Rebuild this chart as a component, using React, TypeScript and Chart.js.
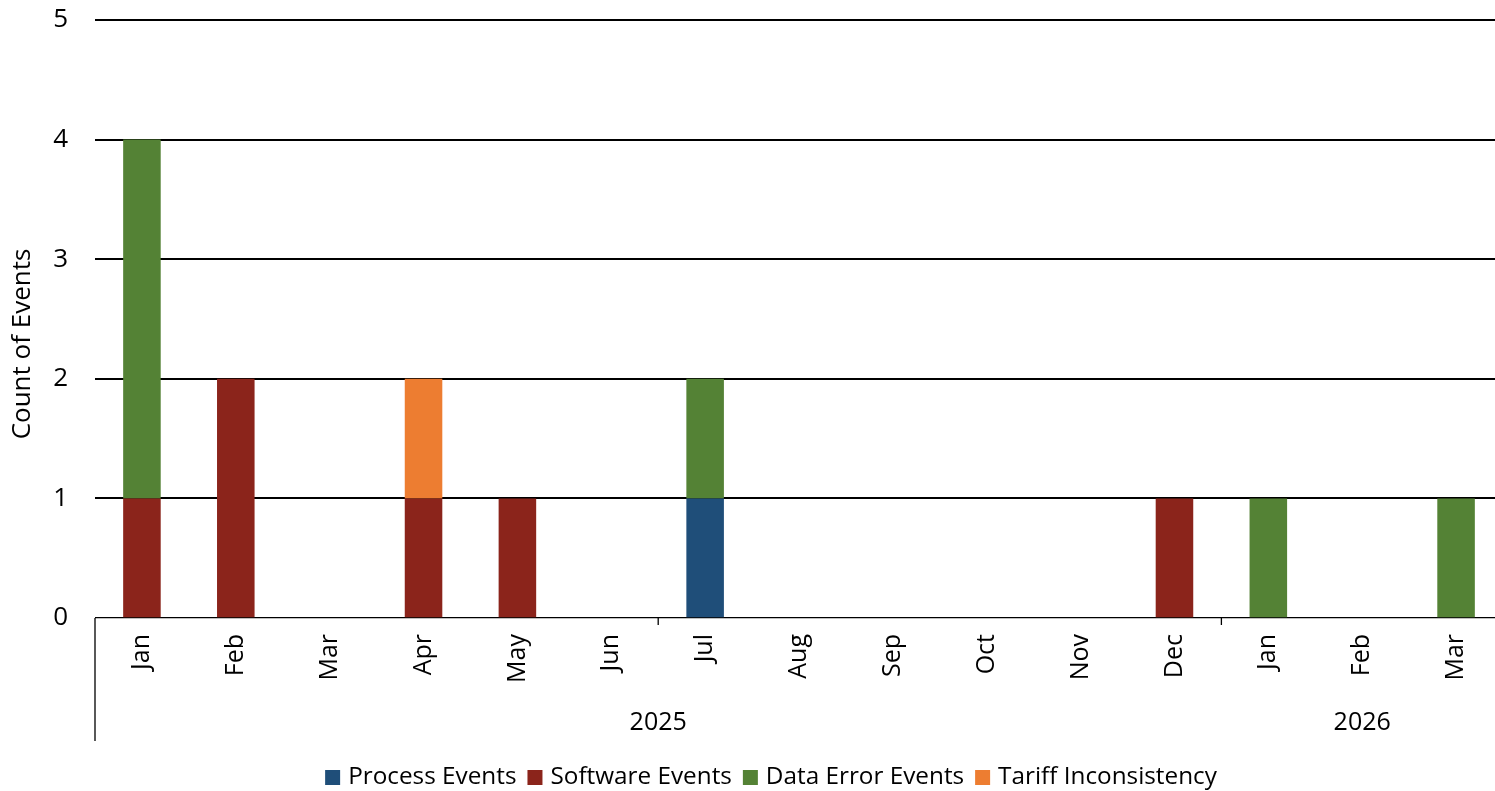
import React, { useEffect, useRef } from "react";
import { Chart, registerables } from "chart.js";

Chart.register(...registerables);

const months = ["Jan", "Feb", "Mar", "Apr", "May", "Jun", "Jul", "Aug", "Sep", "Oct", "Nov", "Dec", "Jan", "Feb", "Mar"];
const years = [
  { label: "2025", start: 0, end: 11 },
  { label: "2026", start: 12, end: 14 },
];
const processEvents = [0, 0, 0, 0, 0, 0, 1, 0, 0, 0, 0, 0, 0, 0, 0];
const softwareEvents = [1, 2, 0, 1, 1, 0, 0, 0, 0, 0, 0, 1, 0, 0, 0];
const dataErrorEvents = [3, 0, 0, 0, 0, 0, 1, 0, 0, 0, 0, 0, 1, 0, 1];
const tariffInconsistency = [0, 0, 0, 1, 0, 0, 0, 0, 0, 0, 0, 0, 0, 0, 0];
const yTicks = [0, 1, 2, 3, 4, 5];

const seriesNames = ["Process Events", "Software Events", "Data Error Events", "Tariff Inconsistency"];
const seriesColors = ["#1F4E79", "#8B241B", "#548235", "#ED7D31"];

const FONT = "'Open Sans', 'Noto Sans', sans-serif";

const customAxes = {
  id: "customAxes",
  afterDraw(chart: any) {
    const ctx = chart.ctx;
    const x = chart.scales.x;
    const y = chart.scales.y;
    const area = chart.chartArea;
    ctx.save();
    ctx.fillStyle = "#000";
    // y tick labels
    ctx.font = `26px ${FONT}`;
    ctx.textAlign = "right";
    ctx.textBaseline = "middle";
    yTicks.forEach((v) => {
      ctx.fillText(String(v), 68, y.getPixelForValue(v));
    });
    // y title
    ctx.save();
    ctx.translate(23, 344);
    ctx.rotate(-Math.PI / 2);
    ctx.textAlign = "center";
    ctx.textBaseline = "middle";
    ctx.font = `26px ${FONT}`;
    ctx.fillText("Count of Events", 0, 0);
    ctx.restore();
    // month labels
    ctx.font = `25px ${FONT}`;
    months.forEach((m, i) => {
      const px = x.getPixelForValue(i);
      ctx.save();
      ctx.translate(px, 634);
      ctx.rotate(-Math.PI / 2);
      ctx.textAlign = "right";
      ctx.textBaseline = "middle";
      ctx.fillText(m, 0, 0);
      ctx.restore();
    });
    // year labels and separators
    const step = x.getPixelForValue(1) - x.getPixelForValue(0);
    ctx.font = `25px ${FONT}`;
    ctx.textAlign = "center";
    ctx.textBaseline = "middle";
    years.forEach((yr) => {
      const l = x.getPixelForValue(yr.start) - step / 2;
      const r = x.getPixelForValue(yr.end) + step / 2;
      ctx.fillText(yr.label, (l + r) / 2, 723);
    });
    ctx.strokeStyle = "#000";
    ctx.lineWidth = 1.3;
    ctx.beginPath();
    ctx.moveTo(area.left, area.bottom);
    ctx.lineTo(area.left, 741);
    for (let k = 6; k < months.length; k += 6) {
      const sx = x.getPixelForValue(k) - step / 2;
      ctx.moveTo(sx, area.bottom);
      ctx.lineTo(sx, area.bottom + 7);
    }
    ctx.stroke();
    // legend
    ctx.font = `24.3px ${FONT}`;
    ctx.textAlign = "left";
    ctx.textBaseline = "middle";
    const box = 15;
    const gapBox = 8;
    const gapItem = 11;
    const widths = seriesNames.map((n) => ctx.measureText(n).width);
    const total = widths.reduce((a, w) => a + box + gapBox + w, 0) + gapItem * (seriesNames.length - 1);
    let lx = 771 - total / 2;
    const ly = 777.5;
    seriesNames.forEach((n, i) => {
      ctx.fillStyle = seriesColors[i];
      ctx.fillRect(lx, ly - box / 2, box, box);
      ctx.fillStyle = "#000";
      ctx.fillText(n, lx + box + gapBox, ly);
      lx += box + gapBox + widths[i] + gapItem;
    });
    ctx.restore();
  },
};

const toBars = (arr: number[]) => arr.map((v) => (v === 0 ? null : v));

export default function App() {
  const ref = useRef<HTMLCanvasElement>(null);
  useEffect(() => {
    if (!ref.current) return;
    const chart = new Chart(ref.current, {
      type: "bar",
      data: {
        labels: months,
        datasets: [processEvents, softwareEvents, dataErrorEvents, tariffInconsistency].map((d, i) => ({
          label: seriesNames[i],
          data: toBars(d),
          backgroundColor: seriesColors[i],
          borderWidth: 0,
          categoryPercentage: 1,
          barPercentage: 0.4,
        })),
      },
      options: {
        responsive: false,
        animation: false,
        layout: { padding: { left: 95, top: 20, right: 0, bottom: 173 } },
        plugins: { legend: { display: false }, tooltip: { enabled: false } },
        scales: {
          x: { stacked: true, display: false },
          y: {
            stacked: true,
            min: 0,
            max: 5,
            ticks: { display: false, stepSize: 1 },
            border: { display: false },
            grid: {
              drawTicks: false,
              color: "#000",
              lineWidth: (c: any) => (c.tick && c.tick.value === 0 ? 1.3 : 2),
            },
          },
        },
      },
      plugins: [customAxes],
    });
    return () => chart.destroy();
  }, []);
  return (
    <div style={{ position: "fixed", left: 0, top: 0, width: 1495, height: 791, overflow: "hidden", background: "#fff" }}>
      <canvas ref={ref} width={1503} height={791} style={{ width: 1503, height: 791, display: "block" }} />
    </div>
  );
}
